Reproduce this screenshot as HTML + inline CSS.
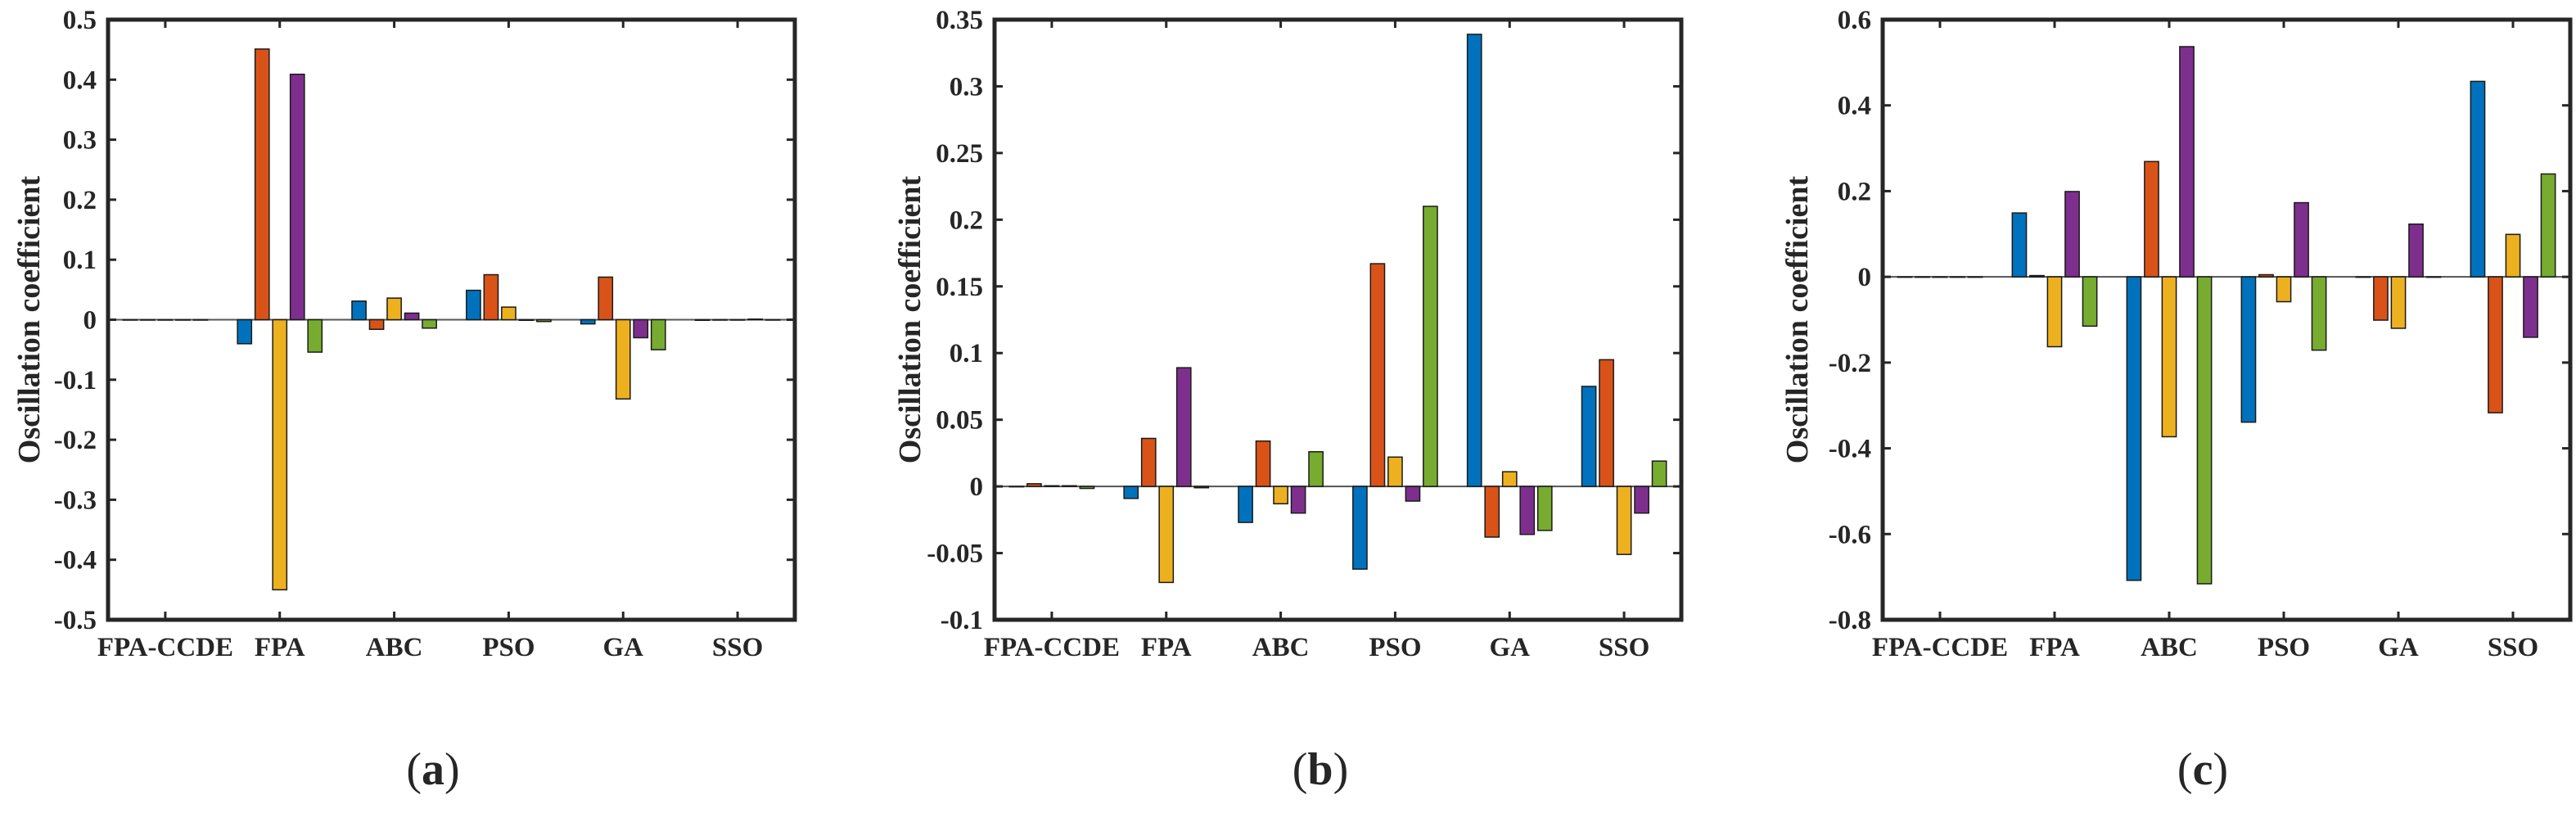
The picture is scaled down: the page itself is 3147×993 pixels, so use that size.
<!DOCTYPE html>
<html><head><meta charset="utf-8"><style>
html,body{margin:0;padding:0;background:#fff;}
svg{display:block;}
text{font-family:"Liberation Serif",serif;font-weight:bold;fill:#262626;}
</style></head><body>
<svg id="fig" width="3147" height="993" viewBox="0 0 3147 993" xmlns="http://www.w3.org/2000/svg"></svg>
<script>
const categories = ["FPA-CCDE","FPA","ABC","PSO","GA","SSO"];
const colors = ["#0072BD","#D95319","#EDB120","#7E2F8E","#77AC30"];
// panel a values: series 1..5 per category
const aS1 = [0, -0.040, 0.031, 0.049, -0.007, -0.001];
const aS2 = [0, 0.451, -0.016, 0.075, 0.071, 0.000];
const aS3 = [0, -0.450, 0.036, 0.021, -0.132, 0.000];
const aS4 = [0, 0.409, 0.011, -0.001, -0.030, 0.001];
const aS5 = [0, -0.054, -0.014, -0.003, -0.050, 0.000];
const aTicks = [0.5,0.4,0.3,0.2,0.1,0,-0.1,-0.2,-0.3,-0.4,-0.5];
const aTickLabels = ["0.5","0.4","0.3","0.2","0.1","0","-0.1","-0.2","-0.3","-0.4","-0.5"];
// panel b
const bS1 = [0, -0.009, -0.027, -0.062, 0.339, 0.075];
const bS2 = [0.002, 0.036, 0.034, 0.167, -0.038, 0.095];
const bS3 = [0.0005, -0.072, -0.013, 0.022, 0.011, -0.051];
const bS4 = [0.0005, 0.089, -0.020, -0.011, -0.036, -0.020];
const bS5 = [-0.0015, -0.001, 0.026, 0.210, -0.033, 0.019];
const bTicks = [0.35,0.3,0.25,0.2,0.15,0.1,0.05,0,-0.05,-0.1];
const bTickLabels = ["0.35","0.3","0.25","0.2","0.15","0.1","0.05","0","-0.05","-0.1"];
// panel c
const cS1 = [0, 0.149, -0.708, -0.339, 0, 0.456];
const cS2 = [0, 0.003, 0.269, 0.005, -0.101, -0.317];
const cS3 = [0, -0.163, -0.373, -0.058, -0.120, 0.099];
const cS4 = [0, 0.199, 0.537, 0.173, 0.123, -0.141];
const cS5 = [0, -0.115, -0.716, -0.171, 0, 0.240];
const cTicks = [0.6,0.4,0.2,0,-0.2,-0.4,-0.6,-0.8];
const cTickLabels = ["0.6","0.4","0.2","0","-0.2","-0.4","-0.6","-0.8"];

const NS = "http://www.w3.org/2000/svg";
const svg = document.getElementById('fig');
function mk(tag, attrs, parent){ const e=document.createElementNS(NS,tag); for(const k in attrs) e.setAttribute(k,attrs[k]); (parent||svg).appendChild(e); return e; }

function panel(id, left, right, ymin, ymax, series, ticks, tickLabels, titleX, letter, letterX){
  const top=24, bottom=757;
  const g = mk('g',{});
  
  
  const step=(right-left)/categories.length;
  const xc = i => left + step*(i+0.5);
  const y = v => bottom - (v-ymin)/(ymax-ymin)*(bottom-top);
  const pitch = step*0.769/5, bw = pitch*0.8;
  const zl = mk('line',{x1:left,x2:right,y1:y(0),y2:y(0),stroke:'#555','stroke-width':2},g);
  
  
  series.forEach((vals,s)=>{
    vals.forEach((v,i)=>{
      const cx = xc(i) + (s-2)*pitch;
      const y0=y(0), y1=y(v);
      const r = mk('rect',{x:cx-bw/2,y:Math.min(y0,y1),width:bw,height:Math.max(Math.abs(y1-y0),0.5),fill:colors[s],stroke:'#1a1a1a','stroke-width':1.5},g);
      
      
    });
  });
  ticks.forEach((t,k)=>{
    const yy=y(t);
    mk('line',{x1:left,x2:left+10,y1:yy,y2:yy,stroke:'#262626','stroke-width':3},g);
    mk('line',{x1:right-10,x2:right,y1:yy,y2:yy,stroke:'#262626','stroke-width':3},g);
    const tl = mk('text',{x:left-14,y:yy+11,'text-anchor':'end','font-size':33},g);
    tl.textContent = tickLabels[k];
    
    
  });
  categories.forEach((c,i)=>{
    const xx=xc(i);
    mk('line',{x1:xx,x2:xx,y1:top,y2:top+10,stroke:'#262626','stroke-width':3},g);
    mk('line',{x1:xx,x2:xx,y1:bottom-10,y2:bottom,stroke:'#262626','stroke-width':3},g);
    const tl = mk('text',{x:xx,y:bottom+44,'text-anchor':'middle','font-size':33},g);
    tl.textContent=c;
    
    
  });
  const box = mk('rect',{x:left,y:top,width:right-left,height:bottom-top,fill:'none',stroke:'#262626','stroke-width':5},g);
  
  
  const ty=(top+bottom)/2;
  const tt = mk('text',{x:titleX,y:ty,'text-anchor':'middle','font-size':38,transform:`rotate(-90 ${titleX} ${ty})`,dy:12},g);
  tt.textContent='Oscillation coefficient';
  
  
  const lt = mk('text',{x:letterX,y:958,'text-anchor':'middle','font-size':56},g);
  lt.innerHTML = '<tspan font-weight="normal">(</tspan>'+letter+'<tspan font-weight="normal">)</tspan>';
  
  
}
panel('a',132,971,-0.5,0.5,[aS1,aS2,aS3,aS4,aS5],aTicks,aTickLabels,36,'a',529);
panel('b',1215,2054,-0.1,0.35,[bS1,bS2,bS3,bS4,bS5],bTicks,bTickLabels,1112,'b',1613);
panel('c',2300,3140,-0.8,0.6,[cS1,cS2,cS3,cS4,cS5],cTicks,cTickLabels,2196,'c',2691);
</script>
</body></html>
